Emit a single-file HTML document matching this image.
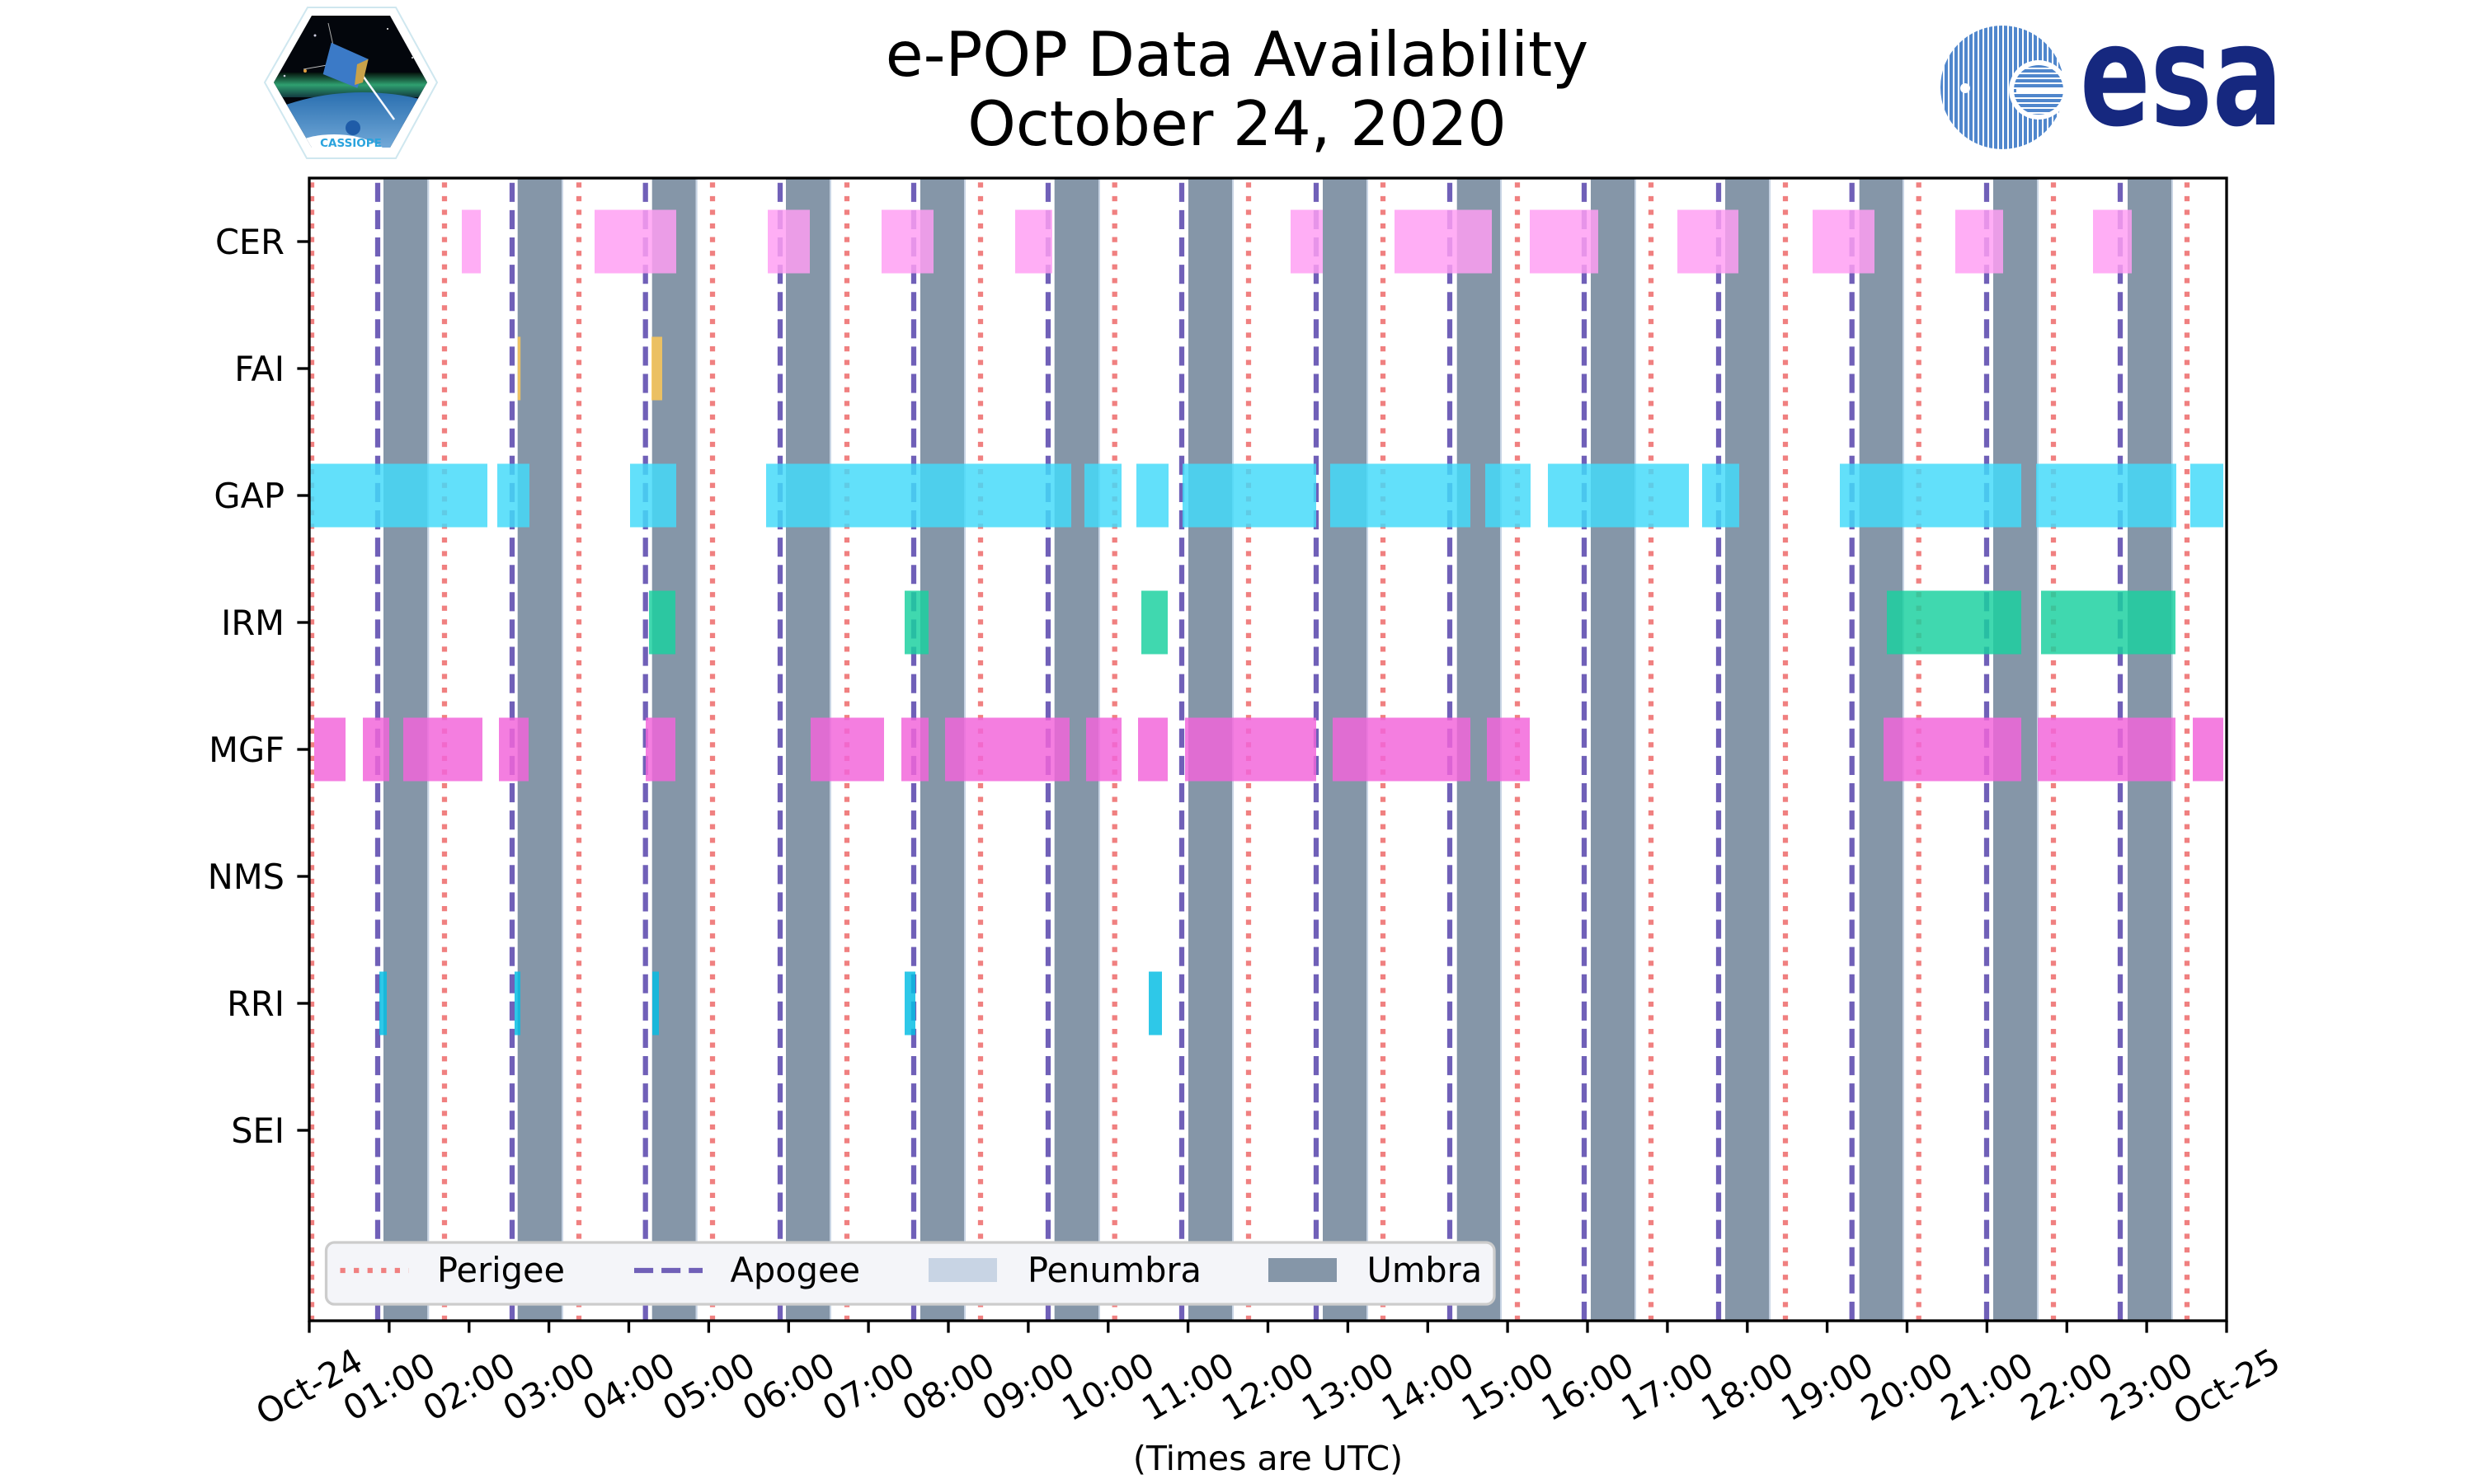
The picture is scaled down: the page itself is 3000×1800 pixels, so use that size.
<!DOCTYPE html>
<html>
<head>
<meta charset="utf-8">
<style>
html,body{margin:0;padding:0;background:#fff;}
body{width:3000px;height:1800px;overflow:hidden;}
svg{display:block;}
text{font-family:"DejaVu Sans","Liberation Sans",sans-serif;}
</style>
</head>
<body>
<svg width="3000" height="1800" viewBox="0 0 3000 1800" xmlns="http://www.w3.org/2000/svg">
<defs>
  <pattern id="vs" width="6" height="6" patternUnits="userSpaceOnUse"><rect width="4" height="6" fill="#4f86cc"/></pattern>
  <pattern id="hs" width="6" height="6" patternUnits="userSpaceOnUse"><rect width="6" height="4" fill="#4f86cc"/></pattern>
  <clipPath id="hexin"><polygon points="378,19 473,19 518,100 473,179 378,179 332,100"/></clipPath>
  <linearGradient id="earth" x1="0" y1="0" x2="0" y2="1">
    <stop offset="0" stop-color="#2a6fb0"/>
    <stop offset="0.4" stop-color="#8fc0e8"/>
    <stop offset="1" stop-color="#e6f2fb"/>
  </linearGradient>
  <linearGradient id="aur" x1="0" y1="0" x2="0" y2="1">
    <stop offset="0" stop-color="#05120c"/>
    <stop offset="0.5" stop-color="#2fa070"/>
    <stop offset="1" stop-color="#123a40"/>
  </linearGradient>
</defs>

<!-- CASSIOPE logo -->
<polygon points="373,9 480,9 530,100 480,192 372,192 321,100" fill="#fff" stroke="#cfe7ef" stroke-width="2"/>
<g clip-path="url(#hexin)">
  <rect x="330" y="15" width="200" height="170" fill="#03060c"/>
  <rect x="330" y="88" width="200" height="30" fill="url(#aur)"/>
  <ellipse cx="440" cy="230" rx="190" ry="118" fill="url(#earth)"/>
  <ellipse cx="405" cy="205" rx="75" ry="42" fill="#fff"/>
  <circle cx="382" cy="43" r="1.5" fill="#ccd"/>
  <circle cx="345" cy="92" r="1.3" fill="#ccd"/>
  <circle cx="470" cy="35" r="1" fill="#fff"/>
  <circle cx="500" cy="70" r="1" fill="#fff"/>
  <line x1="440" y1="92" x2="478" y2="145" stroke="#f4f8ff" stroke-width="2.5"/>
  <line x1="368" y1="84" x2="402" y2="78" stroke="#bbb" stroke-width="1"/>
  <line x1="398" y1="28" x2="404" y2="55" stroke="#aaa" stroke-width="1"/>
  <polygon points="401.7,51.7 446.7,71.7 433.3,106.7 391.7,90" fill="#3b7ac7"/>
  <polygon points="433,78 446.7,71.7 440,100 430,103" fill="#c9a24a"/>
  <circle cx="370" cy="86" r="2" fill="#e0a040"/>
  <circle cx="428" cy="155" r="9" fill="#1f5ca8"/>
  <text x="425.5" y="178" font-family="Liberation Sans, sans-serif" font-weight="bold" font-size="13.5" fill="#2aa3dd" text-anchor="middle">CASSIOPE</text>
</g>

<!-- ESA logo -->
<circle cx="2428" cy="106" r="75" fill="url(#vs)"/>
<circle cx="2472" cy="109" r="36" fill="#fff"/>
<circle cx="2472" cy="109" r="30" fill="url(#hs)"/>
<rect x="2445" y="106" width="58" height="6" fill="#fff"/>
<circle cx="2383" cy="107" r="6" fill="#fff"/>
<text x="2522" y="151" font-family="Liberation Sans, sans-serif" font-weight="bold" font-size="170" fill="#16287f" textLength="246" lengthAdjust="spacingAndGlyphs">esa</text>

<!-- Title -->
<text x="1500" y="92" font-size="74.5" text-anchor="middle" fill="#000">e-POP Data Availability</text>
<text x="1500" y="176" font-size="74.5" text-anchor="middle" fill="#000">October 24, 2020</text>

<!-- Umbra & penumbra -->
<g fill="#8596a8">
<rect x="465" y="216" width="53.3" height="1386"/>
<rect x="627.7" y="216" width="53.3" height="1386"/>
<rect x="790.7" y="216" width="53" height="1386"/>
<rect x="953" y="216" width="53" height="1386"/>
<rect x="1116" y="216" width="53" height="1386"/>
<rect x="1278.7" y="216" width="53.3" height="1386"/>
<rect x="1441" y="216" width="53" height="1386"/>
<rect x="1604" y="216" width="53" height="1386"/>
<rect x="1766.7" y="216" width="52.3" height="1386"/>
<rect x="1929" y="216" width="53" height="1386"/>
<rect x="2092" y="216" width="53" height="1386"/>
<rect x="2254.7" y="216" width="52.3" height="1386"/>
<rect x="2417" y="216" width="53" height="1386"/>
<rect x="2580" y="216" width="53" height="1386"/>
</g>
<g fill="#c8d4e4">
<rect x="518.3" y="216" width="2" height="1386"/>
<rect x="681" y="216" width="2" height="1386"/>
<rect x="843.7" y="216" width="2" height="1386"/>
<rect x="1006" y="216" width="2" height="1386"/>
<rect x="1169" y="216" width="2" height="1386"/>
<rect x="1332" y="216" width="2" height="1386"/>
<rect x="1494" y="216" width="2" height="1386"/>
<rect x="1657" y="216" width="2" height="1386"/>
<rect x="1819" y="216" width="2" height="1386"/>
<rect x="1982" y="216" width="2" height="1386"/>
<rect x="2145" y="216" width="2" height="1386"/>
<rect x="2307" y="216" width="2" height="1386"/>
<rect x="2470" y="216" width="2" height="1386"/>
<rect x="2633" y="216" width="2" height="1386"/>
</g>

<!-- Perigee lines -->
<g stroke="#f08080" stroke-width="6.25" stroke-dasharray="6.25 10.31" fill="none">
<line x1="378" y1="1602" x2="378" y2="216"/>
<line x1="539" y1="1602" x2="539" y2="216"/>
<line x1="702" y1="1602" x2="702" y2="216"/>
<line x1="864" y1="1602" x2="864" y2="216"/>
<line x1="1027" y1="1602" x2="1027" y2="216"/>
<line x1="1189" y1="1602" x2="1189" y2="216"/>
<line x1="1351.7" y1="1602" x2="1351.7" y2="216"/>
<line x1="1514" y1="1602" x2="1514" y2="216"/>
<line x1="1677" y1="1602" x2="1677" y2="216"/>
<line x1="1840" y1="1602" x2="1840" y2="216"/>
<line x1="2002" y1="1602" x2="2002" y2="216"/>
<line x1="2165" y1="1602" x2="2165" y2="216"/>
<line x1="2326.7" y1="1602" x2="2326.7" y2="216"/>
<line x1="2490" y1="1602" x2="2490" y2="216"/>
<line x1="2652" y1="1602" x2="2652" y2="216"/>
</g>

<!-- Apogee lines -->
<g stroke="#7060b8" stroke-width="6.25" stroke-dasharray="23.1 10" fill="none">
<line x1="458" y1="1602" x2="458" y2="216"/>
<line x1="621" y1="1602" x2="621" y2="216"/>
<line x1="782.7" y1="1602" x2="782.7" y2="216"/>
<line x1="946" y1="1602" x2="946" y2="216"/>
<line x1="1108" y1="1602" x2="1108" y2="216"/>
<line x1="1271" y1="1602" x2="1271" y2="216"/>
<line x1="1433" y1="1602" x2="1433" y2="216"/>
<line x1="1596" y1="1602" x2="1596" y2="216"/>
<line x1="1758" y1="1602" x2="1758" y2="216"/>
<line x1="1921" y1="1602" x2="1921" y2="216"/>
<line x1="2084" y1="1602" x2="2084" y2="216"/>
<line x1="2245.7" y1="1602" x2="2245.7" y2="216"/>
<line x1="2409" y1="1602" x2="2409" y2="216"/>
<line x1="2571" y1="1602" x2="2571" y2="216"/>
</g>

<!-- CER -->
<g fill="rgb(255,158,243)" fill-opacity="0.835">
<rect x="560" y="254.5" width="23" height="77"/>
<rect x="721" y="254.5" width="99" height="77"/>
<rect x="931" y="254.5" width="51" height="77"/>
<rect x="1069" y="254.5" width="63" height="77"/>
<rect x="1231" y="254.5" width="45" height="77"/>
<rect x="1565" y="254.5" width="39" height="77"/>
<rect x="1691" y="254.5" width="118" height="77"/>
<rect x="1855" y="254.5" width="83" height="77"/>
<rect x="2034" y="254.5" width="74" height="77"/>
<rect x="2198" y="254.5" width="75" height="77"/>
<rect x="2371" y="254.5" width="58" height="77"/>
<rect x="2538" y="254.5" width="47" height="77"/>
</g>
<!-- FAI -->
<g fill="rgb(255,200,85)" fill-opacity="0.835">
<rect x="627.7" y="408.5" width="3.5" height="77"/>
<rect x="790" y="408.5" width="13" height="77"/>
</g>
<!-- GAP -->
<g fill="rgb(67,218,249)" fill-opacity="0.835">
<rect x="376" y="562.5" width="215" height="77"/>
<rect x="603" y="562.5" width="39" height="77"/>
<rect x="764" y="562.5" width="56" height="77"/>
<rect x="929" y="562.5" width="370" height="77"/>
<rect x="1315" y="562.5" width="45" height="77"/>
<rect x="1378" y="562.5" width="39" height="77"/>
<rect x="1434" y="562.5" width="162" height="77"/>
<rect x="1613" y="562.5" width="170" height="77"/>
<rect x="1801" y="562.5" width="55" height="77"/>
<rect x="1877" y="562.5" width="171" height="77"/>
<rect x="2064" y="562.5" width="45" height="77"/>
<rect x="2231" y="562.5" width="220" height="77"/>
<rect x="2469" y="562.5" width="170" height="77"/>
<rect x="2656" y="562.5" width="40" height="77"/>
</g>
<!-- IRM -->
<g fill="rgb(26,208,159)" fill-opacity="0.835">
<rect x="787" y="716.5" width="32" height="77"/>
<rect x="1097" y="716.5" width="29" height="77"/>
<rect x="1384" y="716.5" width="32" height="77"/>
<rect x="2288" y="716.5" width="163" height="77"/>
<rect x="2475" y="716.5" width="163" height="77"/>
</g>
<!-- MGF -->
<g fill="rgb(242,101,218)" fill-opacity="0.835">
<rect x="381" y="870.5" width="38" height="77"/>
<rect x="440" y="870.5" width="32" height="77"/>
<rect x="489" y="870.5" width="96" height="77"/>
<rect x="605" y="870.5" width="36" height="77"/>
<rect x="783" y="870.5" width="36" height="77"/>
<rect x="983" y="870.5" width="89" height="77"/>
<rect x="1093" y="870.5" width="33" height="77"/>
<rect x="1146" y="870.5" width="151" height="77"/>
<rect x="1317" y="870.5" width="43" height="77"/>
<rect x="1380" y="870.5" width="36" height="77"/>
<rect x="1437" y="870.5" width="159" height="77"/>
<rect x="1616" y="870.5" width="167" height="77"/>
<rect x="1803" y="870.5" width="52" height="77"/>
<rect x="2284" y="870.5" width="167" height="77"/>
<rect x="2471" y="870.5" width="167" height="77"/>
<rect x="2659" y="870.5" width="37" height="77"/>
</g>
<!-- RRI -->
<g fill="rgb(5,189,228)" fill-opacity="0.835">
<rect x="460" y="1178.5" width="9" height="77"/>
<rect x="624" y="1178.5" width="7" height="77"/>
<rect x="791" y="1178.5" width="8" height="77"/>
<rect x="1097" y="1178.5" width="13" height="77"/>
<rect x="1393" y="1178.5" width="16" height="77"/>
</g>

<!-- Legend -->
<rect x="395.5" y="1507" width="1416.5" height="75" rx="10" ry="10" fill="#f4f5f9" stroke="#cccccc" stroke-width="3.3"/>
<line x1="412.5" y1="1541" x2="495.5" y2="1541" stroke="#f08080" stroke-width="6.25" stroke-dasharray="6.25 10.31"/>
<text x="530" y="1555" font-size="41.5" fill="#000">Perigee</text>
<line x1="769" y1="1541" x2="852" y2="1541" stroke="#7060b8" stroke-width="6.25" stroke-dasharray="23.1 10"/>
<text x="885.5" y="1555" font-size="41.5" fill="#000">Apogee</text>
<rect x="1126" y="1526" width="83" height="29" fill="#c8d4e4"/>
<text x="1246" y="1555" font-size="41.5" fill="#000">Penumbra</text>
<rect x="1538" y="1526" width="83" height="29" fill="#8596a8"/>
<text x="1657.5" y="1555" font-size="41.5" fill="#000">Umbra</text>

<!-- Axes spines -->
<rect x="375" y="216" width="2325" height="1386" fill="none" stroke="#000" stroke-width="3.33"/>

<!-- Y ticks -->
<g stroke="#000" stroke-width="3.33">
<line x1="360.4" y1="293" x2="375" y2="293"/>
<line x1="360.4" y1="447" x2="375" y2="447"/>
<line x1="360.4" y1="601" x2="375" y2="601"/>
<line x1="360.4" y1="755" x2="375" y2="755"/>
<line x1="360.4" y1="909" x2="375" y2="909"/>
<line x1="360.4" y1="1063" x2="375" y2="1063"/>
<line x1="360.4" y1="1217" x2="375" y2="1217"/>
<line x1="360.4" y1="1371" x2="375" y2="1371"/>
</g>
<g font-size="41.5" text-anchor="end" fill="#000">
<text x="345" y="308">CER</text>
<text x="345" y="462">FAI</text>
<text x="345" y="616">GAP</text>
<text x="345" y="770">IRM</text>
<text x="345" y="924">MGF</text>
<text x="345" y="1078">NMS</text>
<text x="345" y="1232">RRI</text>
<text x="345" y="1386">SEI</text>
</g>

<!-- X ticks -->
<g stroke="#000" stroke-width="3.33">
<line x1="375" y1="1602" x2="375" y2="1616.6"/>
<line x1="471.9" y1="1602" x2="471.9" y2="1616.6"/>
<line x1="568.8" y1="1602" x2="568.8" y2="1616.6"/>
<line x1="665.6" y1="1602" x2="665.6" y2="1616.6"/>
<line x1="762.5" y1="1602" x2="762.5" y2="1616.6"/>
<line x1="859.4" y1="1602" x2="859.4" y2="1616.6"/>
<line x1="956.3" y1="1602" x2="956.3" y2="1616.6"/>
<line x1="1053.1" y1="1602" x2="1053.1" y2="1616.6"/>
<line x1="1150" y1="1602" x2="1150" y2="1616.6"/>
<line x1="1246.9" y1="1602" x2="1246.9" y2="1616.6"/>
<line x1="1343.8" y1="1602" x2="1343.8" y2="1616.6"/>
<line x1="1440.6" y1="1602" x2="1440.6" y2="1616.6"/>
<line x1="1537.5" y1="1602" x2="1537.5" y2="1616.6"/>
<line x1="1634.4" y1="1602" x2="1634.4" y2="1616.6"/>
<line x1="1731.3" y1="1602" x2="1731.3" y2="1616.6"/>
<line x1="1828.1" y1="1602" x2="1828.1" y2="1616.6"/>
<line x1="1925" y1="1602" x2="1925" y2="1616.6"/>
<line x1="2021.9" y1="1602" x2="2021.9" y2="1616.6"/>
<line x1="2118.8" y1="1602" x2="2118.8" y2="1616.6"/>
<line x1="2215.6" y1="1602" x2="2215.6" y2="1616.6"/>
<line x1="2312.5" y1="1602" x2="2312.5" y2="1616.6"/>
<line x1="2409.4" y1="1602" x2="2409.4" y2="1616.6"/>
<line x1="2506.3" y1="1602" x2="2506.3" y2="1616.6"/>
<line x1="2603.1" y1="1602" x2="2603.1" y2="1616.6"/>
<line x1="2700" y1="1602" x2="2700" y2="1616.6"/>
</g>
<g font-size="41.7" text-anchor="middle" fill="#000">
<text transform="translate(375,1682) rotate(-30)" y="14.5">Oct-24</text>
<text transform="translate(471.9,1682) rotate(-30)" y="14.5">01:00</text>
<text transform="translate(568.8,1682) rotate(-30)" y="14.5">02:00</text>
<text transform="translate(665.6,1682) rotate(-30)" y="14.5">03:00</text>
<text transform="translate(762.5,1682) rotate(-30)" y="14.5">04:00</text>
<text transform="translate(859.4,1682) rotate(-30)" y="14.5">05:00</text>
<text transform="translate(956.3,1682) rotate(-30)" y="14.5">06:00</text>
<text transform="translate(1053.1,1682) rotate(-30)" y="14.5">07:00</text>
<text transform="translate(1150,1682) rotate(-30)" y="14.5">08:00</text>
<text transform="translate(1246.9,1682) rotate(-30)" y="14.5">09:00</text>
<text transform="translate(1343.8,1682) rotate(-30)" y="14.5">10:00</text>
<text transform="translate(1440.6,1682) rotate(-30)" y="14.5">11:00</text>
<text transform="translate(1537.5,1682) rotate(-30)" y="14.5">12:00</text>
<text transform="translate(1634.4,1682) rotate(-30)" y="14.5">13:00</text>
<text transform="translate(1731.3,1682) rotate(-30)" y="14.5">14:00</text>
<text transform="translate(1828.1,1682) rotate(-30)" y="14.5">15:00</text>
<text transform="translate(1925,1682) rotate(-30)" y="14.5">16:00</text>
<text transform="translate(2021.9,1682) rotate(-30)" y="14.5">17:00</text>
<text transform="translate(2118.8,1682) rotate(-30)" y="14.5">18:00</text>
<text transform="translate(2215.6,1682) rotate(-30)" y="14.5">19:00</text>
<text transform="translate(2312.5,1682) rotate(-30)" y="14.5">20:00</text>
<text transform="translate(2409.4,1682) rotate(-30)" y="14.5">21:00</text>
<text transform="translate(2506.3,1682) rotate(-30)" y="14.5">22:00</text>
<text transform="translate(2603.1,1682) rotate(-30)" y="14.5">23:00</text>
<text transform="translate(2700,1682) rotate(-30)" y="14.5">Oct-25</text>
</g>

<!-- X label -->
<text x="1537.5" y="1783" font-size="41" text-anchor="middle" fill="#000">(Times are UTC)</text>
</svg>
</body>
</html>
